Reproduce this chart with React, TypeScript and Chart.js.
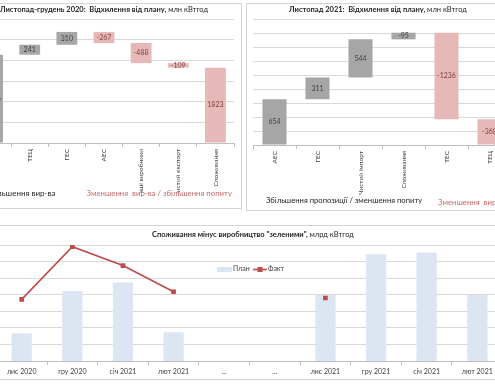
import React, { useEffect, useRef } from 'react';
import { Chart, registerables } from 'chart.js';

Chart.register(...registerables);

const FONT = 'Lato, "Noto Sans", sans-serif';
const GREY = '#a6a6a6';
const PINK = '#e6b9b8';
const GRID = '#d9d9d9';
const AXIS = '#bfbfbf';
const TXT = '#404040';
const PINK_TXT = '#c96a6a';
const LABEL_PINK = '#843c3c';
const PLAN_COLOR = '#dce6f2';
const FACT_COLOR = '#be4b48';

// ---- Chart 1: Листопад-грудень 2020 ----
const cats2020 = ['ТЕС', 'ТЕЦ', 'ГЕС', 'АЕС', 'Інші виробники', 'Чистий експорт', 'Споживання'];
const values2020 = [2136, 241, 310, -267, -488, -109, 1823];
const demand2020 = [false, false, false, false, false, false, true];

// ---- Chart 2: Листопад 2021 ----
const cats2021 = ['АЕС', 'ГЕС', 'Чистий імпорт', 'Споживання', 'ТЕС', 'ТЕЦ'];
const values2021 = [654, 311, 544, -95, -1236, -368];
const demand2021 = [false, false, false, true, false, false];

// ---- Chart 3: Споживання мінус виробництво "зеленими" ----
const months = ['лис 2020', 'гру 2020', 'січ 2021', 'лют 2021', '...', '...', 'лис 2021', 'гру 2021', 'січ 2021', 'лют 2021'];
const plan = [9.84, 11.11, 11.37, 9.87, null, null, 10.99, 12.22, 12.27, 10.99];
const fact = [10.86, 12.45, 11.88, 11.09, null, null, 10.9, null, null, null];

function waterfall(values: number[], demand: boolean[]) {
  let run = 0;
  const ranges: number[][] = [];
  const colors: string[] = [];
  const textColors: string[] = [];
  values.forEach((v, i) => {
    const eff = demand[i] ? -v : v;
    ranges.push([run, run + eff]);
    run += eff;
    colors.push(eff >= 0 ? GREY : PINK);
    textColors.push(eff >= 0 ? TXT : LABEL_PINK);
  });
  return { ranges, colors, textColors };
}

type Part = { text: string; bold?: boolean };
type TextItem = { parts: Part[]; x: number; y: number; align: 'left' | 'center' | 'right'; color: string; size: number };

function makeDecor(ox: number, oy: number, items: TextItem[], extra?: (ctx: CanvasRenderingContext2D, ox: number, oy: number) => void) {
  return {
    id: 'decor',
    afterDraw(chart: any) {
      const ctx: CanvasRenderingContext2D = chart.ctx;
      ctx.save();
      ctx.textBaseline = 'middle';
      ctx.textAlign = 'left';
      for (const it of items) {
        const fonts = it.parts.map((p) => `${p.bold ? 'bold ' : ''}${it.size}px ${FONT}`);
        const widths = it.parts.map((p, i) => {
          ctx.font = fonts[i];
          return ctx.measureText(p.text).width;
        });
        const total = widths.reduce((a, b) => a + b, 0);
        let x = it.x - ox;
        if (it.align === 'center') x -= total / 2;
        else if (it.align === 'right') x -= total;
        ctx.fillStyle = it.color;
        it.parts.forEach((p, i) => {
          ctx.font = fonts[i];
          ctx.fillText(p.text, x, it.y - oy);
          x += widths[i];
        });
      }
      if (extra) extra(ctx, ox, oy);
      ctx.restore();
    },
  };
}

function makeBarLabels(values: number[], textColors: string[]) {
  return {
    id: 'barLabels',
    afterDatasetsDraw(chart: any) {
      const meta = chart.getDatasetMeta(0);
      const ctx: CanvasRenderingContext2D = chart.ctx;
      ctx.save();
      ctx.font = `7px ${FONT}`;
      ctx.textAlign = 'center';
      ctx.textBaseline = 'middle';
      meta.data.forEach((el: any, i: number) => {
        ctx.fillStyle = textColors[i];
        ctx.fillText(String(values[i]), el.x, (el.y + el.base) / 2);
      });
      ctx.restore();
    },
  };
}

function waterfallConfig(
  cats: string[], values: number[], demand: boolean[], yMax: number, step: number,
  padding: any, xh: number, decor: any,
) {
  const wf = waterfall(values, demand);
  return {
    type: 'bar',
    data: {
      labels: cats,
      datasets: [{
        data: wf.ranges,
        backgroundColor: wf.colors,
        borderWidth: 0,
        barPercentage: 0.56,
        categoryPercentage: 1,
      }],
    },
    options: {
      responsive: false,
      animation: false,
      devicePixelRatio: 1,
      layout: { padding },
      plugins: { legend: { display: false }, tooltip: { enabled: false }, title: { display: false } },
      scales: {
        x: {
          grid: { drawOnChartArea: false, tickLength: 4, color: AXIS, offset: true },
          border: { color: AXIS },
          ticks: { minRotation: 90, maxRotation: 90, padding: 2, autoSkip: false, color: TXT, font: { family: FONT, size: 6.5 } },
          afterFit: (s: any) => { s.height = xh; },
        },
        y: {
          min: 0, max: yMax,
          ticks: { stepSize: step, display: false },
          grid: { color: GRID, drawTicks: false },
          border: { display: false },
          afterFit: (s: any) => { s.width = 0; },
        },
      },
    },
    plugins: [makeBarLabels(values, wf.textColors), decor],
  };
}

function ChartCanvas({ left, top, width, height, build }: any) {
  const ref = useRef<HTMLCanvasElement>(null);
  useEffect(() => {
    const chart = new Chart(ref.current as HTMLCanvasElement, build());
    return () => chart.destroy();
  }, []);
  return (
    <canvas
      ref={ref}
      width={width}
      height={height}
      style={{ position: 'absolute', left, top, width, height }}
    />
  );
}

const frame = (left: number, top: number, width: number, height: number): React.CSSProperties => ({
  position: 'absolute', left, top, width, height, boxSizing: 'border-box',
  border: '1px solid #d4d4d4', background: '#fff',
});

// canvas placements (page coords)
const TL = { left: -62, top: 3, width: 304, height: 206 };
const TR = { left: 246, top: 3, width: 280, height: 208 };
const BT = { left: -40, top: 225, width: 580, height: 155 };

function buildTL() {
  const decor = makeDecor(TL.left, TL.top, [
    { parts: [{ text: 'Листопад-грудень 2020:  Відхилення від плану,', bold: true }, { text: ' млн кВтгод' }], x: 104, y: 10, align: 'center', color: '#262626', size: 7.5 },
    { parts: [{ text: 'Збільшення вир-ва' }], x: -14, y: 193, align: 'left', color: '#262626', size: 8 },
    { parts: [{ text: 'Зменшення  вир-ва / збільшення попиту' }], x: 232, y: 193, align: 'right', color: PINK_TXT, size: 7.8 },
  ]);
  return waterfallConfig(cats2020, values2020, demand2020, 3000, 500,
    { left: 36, top: 16, right: 8, bottom: 16 }, 50, decor);
}

function buildTR() {
  const decor = makeDecor(TR.left, TR.top, [
    { parts: [{ text: 'Листопад 2021:  Відхилення від плану,', bold: true }, { text: ' млн кВтгод' }], x: 378, y: 10, align: 'center', color: '#262626', size: 7.5 },
    { parts: [{ text: 'Збільшення пропозиції / зменшення попиту' }], x: 266, y: 201, align: 'left', color: '#262626', size: 7.7 },
    { parts: [{ text: 'Зменшення  вир-ва / збільшення попиту' }], x: 438, y: 202, align: 'left', color: PINK_TXT, size: 7.8 },
  ]);
  return waterfallConfig(cats2021, values2021, demand2021, 1800, 200,
    { left: 7, top: 16, right: 15, bottom: 16 }, 50, decor);
}

function buildBT() {
  const decor = makeDecor(BT.left, BT.top, [
    { parts: [{ text: 'Споживання мінус виробництво "зеленими",', bold: true }, { text: ' млрд кВтгод' }], x: 253, y: 235, align: 'center', color: '#262626', size: 7.5 },
    { parts: [{ text: 'План' }], x: 233, y: 269, align: 'left', color: TXT, size: 7 },
    { parts: [{ text: 'Факт' }], x: 268, y: 269, align: 'left', color: TXT, size: 7 },
  ], (ctx, ox, oy) => {
    ctx.fillStyle = PLAN_COLOR;
    ctx.fillRect(217 - ox, 267 - oy, 15, 5);
    ctx.strokeStyle = FACT_COLOR;
    ctx.lineWidth = 1.6;
    ctx.beginPath();
    ctx.moveTo(253 - ox, 269.5 - oy);
    ctx.lineTo(267 - ox, 269.5 - oy);
    ctx.stroke();
    ctx.fillStyle = FACT_COLOR;
    ctx.fillRect(257.5 - ox, 267 - oy, 5, 5);
  });
  return {
    type: 'bar',
    data: {
      labels: months,
      datasets: [
        {
          type: 'line',
          label: 'Факт',
          data: fact,
          borderColor: FACT_COLOR,
          backgroundColor: FACT_COLOR,
          borderWidth: 1.6,
          pointStyle: 'rect',
          pointRadius: 3.3,
          pointBorderWidth: 0,
          spanGaps: false,
          order: 0,
        },
        {
          type: 'bar',
          label: 'План',
          data: plan,
          backgroundColor: PLAN_COLOR,
          borderWidth: 0,
          barPercentage: 0.4,
          categoryPercentage: 1,
          order: 1,
        },
      ],
    },
    options: {
      responsive: false,
      animation: false,
      devicePixelRatio: 1,
      layout: { padding: { left: 36.4, top: 20, right: 37.4, bottom: 4 } },
      plugins: { legend: { display: false }, tooltip: { enabled: false }, title: { display: false } },
      scales: {
        x: {
          offset: true,
          grid: { drawOnChartArea: false, tickLength: 4, color: AXIS, offset: true },
          border: { color: AXIS },
          ticks: { maxRotation: 0, minRotation: 0, padding: 3, autoSkip: false, color: TXT, font: { family: FONT, size: 7 } },
          afterFit: (s: any) => { s.height = 15; },
        },
        y: {
          min: 9, max: 12.5,
          ticks: { stepSize: 0.5, display: false },
          grid: { color: GRID, drawTicks: false },
          border: { display: false },
          afterFit: (s: any) => { s.width = 0; },
        },
      },
    },
    plugins: [decor],
  };
}

export default function App() {
  return (
    <div style={{ position: 'absolute', left: 0, top: 0, width: 495, height: 387, overflow: 'hidden', background: '#fff' }}>
      <div style={frame(-10, 3, 252, 206)} />
      <div style={frame(246, 3, 270, 208)} />
      <div style={frame(-10, 225, 520, 155)} />
      <ChartCanvas {...TL} build={buildTL} />
      <ChartCanvas {...TR} build={buildTR} />
      <ChartCanvas {...BT} build={buildBT} />
    </div>
  );
}
